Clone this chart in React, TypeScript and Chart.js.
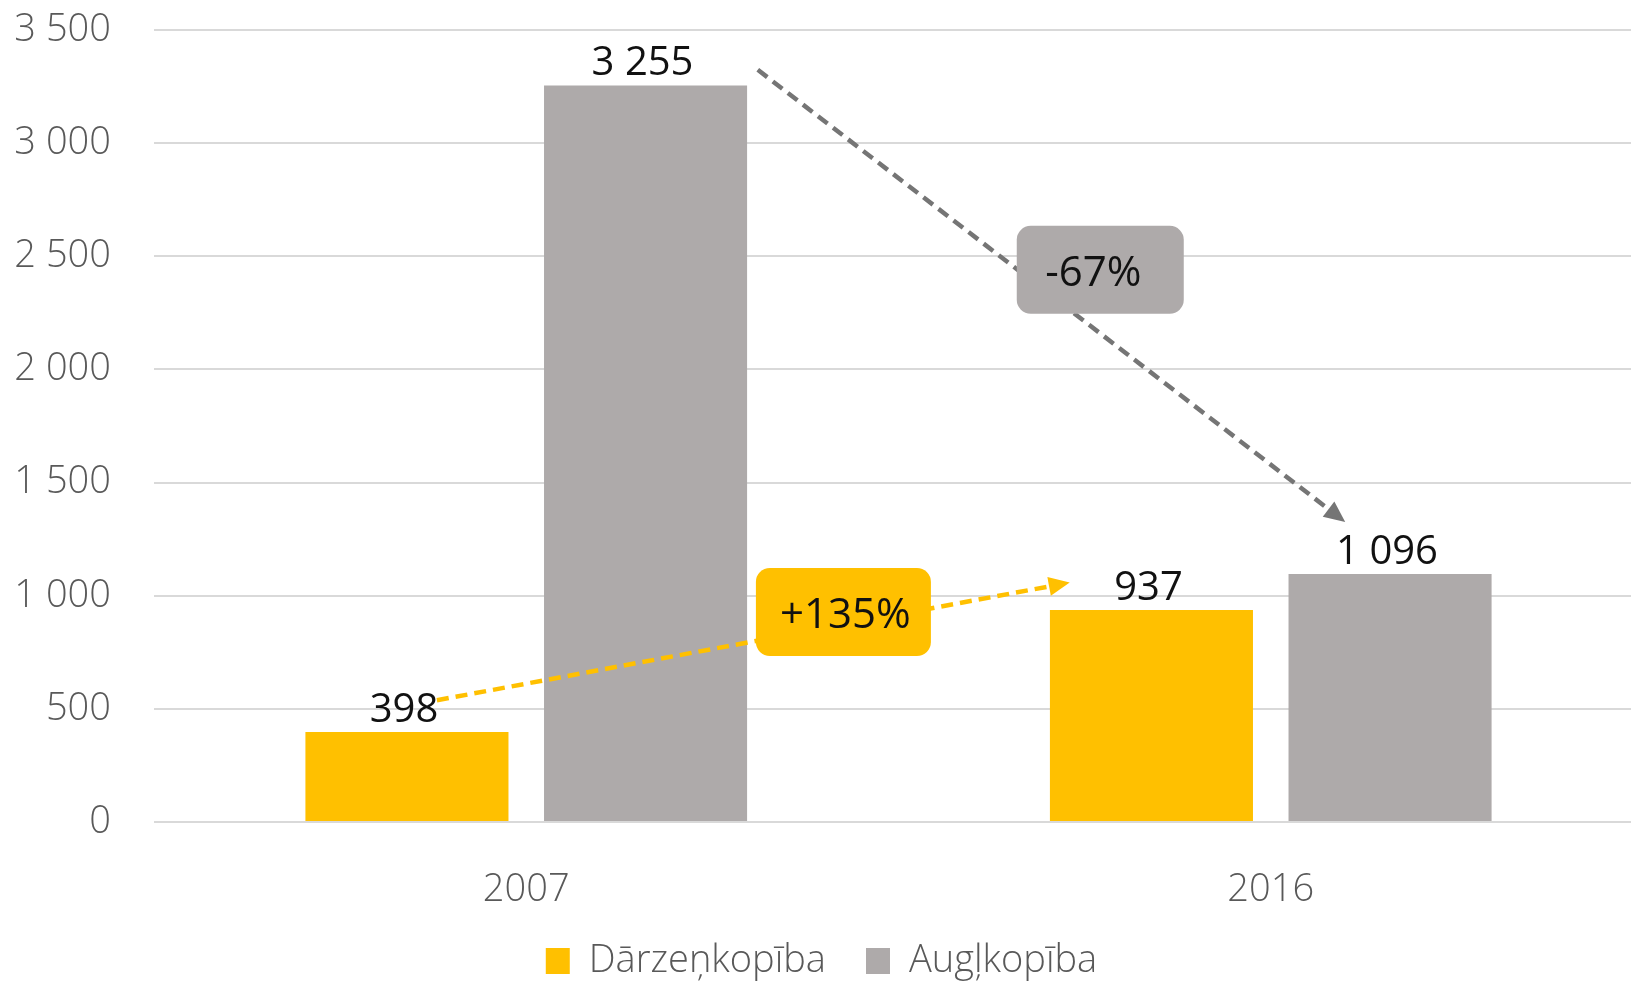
import React, { useEffect, useRef } from "react";
import { Chart, registerables } from "chart.js";

Chart.register(...registerables);

// ---- data ----
const categories = ["2007", "2016"];
const seriesNames = ["Dārzeņkopība", "Augļkopība"];
const vegetableValues = [398, 937];
const fruitValues = [3255, 1096];
const seriesColors = ["#FFC000", "#AEAAAA"];
const yMax = 3500;
const yStep = 500;

// change annotations: text, box colour, arrow colour, arrow start/end and box centre in data space (category index, value)
const changeTexts = ["-67%", "+135%"];
const changeBoxColors = ["#AEAAAA", "#FFC000"];
const changeLineColors = ["#757575", "#FFC000"];
const changeStarts = [[0.311, 3324], [-0.12, 538]];
const changeEnds = [[1.1, 1326], [0.73, 1058]];
const changeBoxCenters = [[0.771, 2440], [0.426, 928]];
const changeBoxSizes = [[167, 88], [175, 88]];
const changeTextShift = [-7, 2];

const FONT = "'Open Sans', 'Noto Sans', sans-serif";

const fmt = (v: number) => String(v).replace(/\B(?=(\d{3})+(?!\d))/g, " ");

const valueLabelPlugin = {
  id: "valueLabels",
  afterDatasetsDraw(chart: any) {
    const ctx = chart.ctx;
    ctx.save();
    ctx.font = `400 40px ${FONT}`;
    ctx.fillStyle = "#111111";
    ctx.textAlign = "center";
    ctx.textBaseline = "alphabetic";
    chart.data.datasets.forEach((ds: any, di: number) => {
      const meta = chart.getDatasetMeta(di);
      meta.data.forEach((bar: any, i: number) => {
        ctx.fillText(fmt(ds.data[i]), bar.x - 3, bar.y - 10);
      });
    });
    ctx.restore();
  },
};

const changePlugin = {
  id: "changeArrows",
  afterDatasetsDraw(chart: any) {
    const ctx = chart.ctx;
    const xs = chart.scales.x;
    const ys = chart.scales.y;
    const px = (p: number[]) => {
      const x0 = xs.getPixelForValue(0);
      const x1 = xs.getPixelForValue(1);
      return [x0 + (x1 - x0) * p[0], ys.getPixelForValue(p[1])];
    };
    ctx.save();
    changeTexts.forEach((_t, k) => {
      const [sx, sy] = px(changeStarts[k]);
      const [ex, ey] = px(changeEnds[k]);
      const ang = Math.atan2(ey - sy, ex - sx);
      const headLen = 21;
      const headHalf = 9.5;
      const bx = ex - Math.cos(ang) * headLen;
      const by = ey - Math.sin(ang) * headLen;
      ctx.strokeStyle = changeLineColors[k];
      ctx.fillStyle = changeLineColors[k];
      ctx.lineWidth = 4.5;
      ctx.setLineDash([12, 7]);
      ctx.beginPath();
      ctx.moveTo(sx, sy);
      ctx.lineTo(bx, by);
      ctx.stroke();
      ctx.setLineDash([]);
      ctx.beginPath();
      ctx.moveTo(ex, ey);
      ctx.lineTo(bx + Math.sin(ang) * headHalf, by - Math.cos(ang) * headHalf);
      ctx.lineTo(bx - Math.sin(ang) * headHalf, by + Math.cos(ang) * headHalf);
      ctx.closePath();
      ctx.fill();
    });
    changeTexts.forEach((t, k) => {
      const [cx, cy] = px(changeBoxCenters[k]);
      const [w, h] = changeBoxSizes[k];
      ctx.fillStyle = changeBoxColors[k];
      ctx.beginPath();
      (ctx as any).roundRect(cx - w / 2, cy - h / 2, w, h, 14);
      ctx.fill();
      ctx.fillStyle = "#111111";
      ctx.font = `400 42px ${FONT}`;
      ctx.textAlign = "center";
      ctx.textBaseline = "middle";
      ctx.fillText(t, cx + changeTextShift[k], cy + 4);
    });
    ctx.restore();
  },
};

export default function App() {
  const canvasRef = useRef<HTMLCanvasElement | null>(null);

  useEffect(() => {
    if (!canvasRef.current) return;
    const chart = new Chart(canvasRef.current, {
      type: "bar",
      data: {
        labels: categories,
        datasets: [
          {
            label: seriesNames[0],
            data: vegetableValues,
            backgroundColor: seriesColors[0],
            categoryPercentage: 0.641,
            barPercentage: 0.851,
          },
          {
            label: seriesNames[1],
            data: fruitValues,
            backgroundColor: seriesColors[1],
            categoryPercentage: 0.641,
            barPercentage: 0.851,
          },
        ],
      },
      options: {
        animation: false,
        responsive: true,
        maintainAspectRatio: false,
        layout: { padding: { top: 30, left: 0, right: 2, bottom: 0 } },
        plugins: {
          tooltip: { enabled: false },
          legend: {
            position: "bottom",
            labels: {
              boxWidth: 24,
              boxHeight: 26,
              padding: 40,
              color: "#595959",
              font: { family: FONT, size: 38, weight: "300" },
            },
          },
        },
        scales: {
          x: {
            grid: { display: false },
            border: { display: false },
            ticks: { color: "#595959", font: { family: FONT, size: 38, weight: "300" }, padding: 37 },
            afterFit: (s: any) => {
              s.height = 80;
            },
          },
          y: {
            min: 0,
            max: yMax,
            grid: { color: "#D9D9D9", lineWidth: 2, drawTicks: false },
            border: { display: false },
            ticks: {
              stepSize: yStep,
              color: "#595959",
              font: { family: FONT, size: 38, weight: "300" },
              padding: 43,
              callback: (v: any) => fmt(Number(v)),
            },
            afterFit: (s: any) => {
              s.width = 154;
              s.paddingTop = 0;
              s.paddingBottom = 0;
            },
          },
        },
      },
      plugins: [valueLabelPlugin, changePlugin],
    });
    return () => chart.destroy();
  }, []);

  return (
    <div style={{ position: "fixed", left: 0, top: 0, width: 1631, height: 984, overflow: "hidden", background: "#fff" }}>
      <div style={{ position: "absolute", left: 0, top: 0, width: 1645, height: 990 }}>
        <canvas ref={canvasRef} />
      </div>
    </div>
  );
}
